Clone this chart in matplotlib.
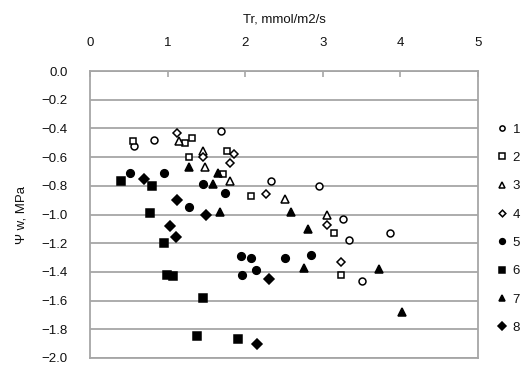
import matplotlib
matplotlib.use("Agg")
import matplotlib.pyplot as plt

plt.rcParams['font.family'] = ['Liberation Sans', 'DejaVu Sans']

# Transpiration rate (x) and leaf water potential (y) per group
s1_x = [0.57, 0.82, 1.69, 2.33, 2.95, 3.26, 3.34, 3.87, 3.50]
s1_y = [-0.52, -0.48, -0.42, -0.77, -0.80, -1.03, -1.18, -1.13, -1.46]
s2_x = [0.55, 1.22, 1.31, 1.28, 1.77, 1.72, 2.07, 3.14, 3.24]
s2_y = [-0.49, -0.50, -0.47, -0.60, -0.56, -0.72, -0.87, -1.13, -1.42]
s3_x = [1.15, 1.45, 1.48, 1.81, 2.51, 3.06]
s3_y = [-0.49, -0.56, -0.67, -0.77, -0.89, -1.00]
s4_x = [1.12, 1.45, 1.86, 1.80, 2.27, 3.06, 3.24]
s4_y = [-0.43, -0.60, -0.58, -0.64, -0.86, -1.07, -1.33]
s5_x = [0.51, 0.95, 1.45, 1.74, 1.27, 1.94, 2.08, 2.51, 2.85, 1.96, 2.14]
s5_y = [-0.71, -0.71, -0.79, -0.85, -0.95, -1.29, -1.30, -1.30, -1.28, -1.42, -1.39]
s6_x = [0.40, 0.80, 0.77, 0.95, 0.99, 1.07, 1.45, 1.38, 1.91]
s6_y = [-0.77, -0.80, -0.99, -1.20, -1.42, -1.43, -1.58, -1.85, -1.87]
s7_x = [1.28, 1.65, 1.59, 1.68, 2.59, 2.81, 2.76, 3.72, 4.02]
s7_y = [-0.67, -0.71, -0.79, -0.98, -0.98, -1.10, -1.37, -1.38, -1.68]
s8_x = [0.70, 1.12, 1.50, 1.03, 1.11, 2.31, 2.15]
s8_y = [-0.75, -0.90, -1.00, -1.08, -1.16, -1.45, -1.90]

labels = ['1', '2', '3', '4', '5', '6', '7', '8']
xs = [s1_x, s2_x, s3_x, s4_x, s5_x, s6_x, s7_x, s8_x]
ys = [s1_y, s2_y, s3_y, s4_y, s5_y, s6_y, s7_y, s8_y]
markers = ['o', 's', '^', 'D', 'o', 's', '^', 'D']
filled = [False, False, False, False, True, True, True, True]
sizes = [5, 5, 5.5, 4.5, 5.5, 5.5, 6, 5]

x_ticks = [0, 1, 2, 3, 4, 5]
y_ticks = [0.0, -0.2, -0.4, -0.6, -0.8, -1.0, -1.2, -1.4, -1.6, -1.8, -2.0]

grid_col = '#a6a6a6'
text_col = '#111111'

fig = plt.figure(figsize=(5.26, 3.72), dpi=100)
ax = fig.add_axes([90 / 526, 1 - 358 / 372, 388 / 526, 287 / 372])

for x, y, m, f, ms, lab in zip(xs, ys, markers, filled, sizes, labels):
    ax.plot(x, y, linestyle='none', marker=m, markersize=ms,
            markerfacecolor='black' if f else 'white',
            markeredgecolor='black', markeredgewidth=1.1, label=lab,
            clip_on=False, zorder=3)

ax.set_xlim(0, 5)
ax.set_ylim(-2.0, 0.0)
ax.set_xticks(x_ticks)
ax.set_xticklabels([str(t) for t in x_ticks])
ax.set_yticks(y_ticks)
ax.set_yticklabels([f"{t:.1f}".replace('-', '\u2212') if t != 0 else "0.0" for t in y_ticks])

ax.xaxis.tick_top()
ax.xaxis.set_label_position('top')
ax.tick_params(axis='x', direction='in', length=4, width=1.2, color=grid_col,
               pad=16, labelsize=9.5, labelcolor=text_col)
ax.tick_params(axis='y', length=0, pad=16, labelsize=9.5, labelcolor=text_col)

ax.set_xlabel('Tr, mmol/m2/s', fontsize=9.5, labelpad=10, color=text_col)
ax.set_ylabel('\u03a8 w, MPa', fontsize=9.5, labelpad=10, color=text_col)

ax.yaxis.grid(True, color=grid_col, linewidth=1.3)
ax.set_axisbelow(True)
for sp in ax.spines.values():
    sp.set_color(grid_col)
    sp.set_linewidth(1.3)

leg = ax.legend(loc='upper left', bbox_to_anchor=(1.035, 0.84), frameon=False,
                handlelength=0.6, handletextpad=0.5, labelspacing=1.22,
                fontsize=9.5, borderpad=0, markerscale=0.75)
for t in leg.get_texts():
    t.set_color(text_col)

fig.savefig('out.png', dpi=100)
